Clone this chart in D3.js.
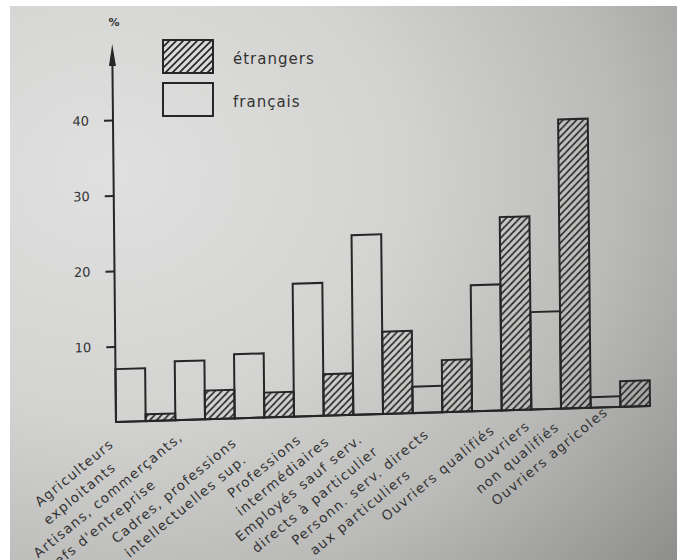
<!DOCTYPE html>
<html>
<head>
<meta charset="utf-8">
<script src="https://cdn.jsdelivr.net/npm/d3@7"></script>
<style>
  html, body { margin: 0; padding: 0; background: #fff; }
  svg { display: block; }
</style>
</head>
<body>
<svg id="chart" width="677" height="560"></svg>
<script>
// ---------- data ----------
const categories = [
  ["Agriculteurs", "exploitants"],
  ["Artisans, commerçants,", "chefs d'entreprise"],
  ["Cadres, professions", "intellectuelles sup."],
  ["Professions", "intermédiaires"],
  ["Employés sauf serv.", "directs à particulier"],
  ["Personn. serv. directs", "aux particuliers"],
  ["Ouvriers qualifiés"],
  ["Ouvriers", "non qualifiés"],
  ["Ouvriers agricoles"]
];
const francais  = [7.0, 7.8, 8.5, 17.6, 23.8, 3.5, 16.7, 12.9, 1.4];
const etrangers = [0.9, 3.8, 3.3, 5.5, 10.9, 6.9, 25.6, 38.3, 3.4];
const seriesNames = ["étrangers", "français"];
const yTicks = [10, 20, 30, 40];
const yUnit = "%";

// ---------- layout (not data) ----------
// shift of each label line's middle along the text direction, relative to its bar group
const labelShift = [
  [-88, -97],
  [-123, -152],
  [-116, -117],
  [-78, -70],
  [-112, -107],
  [-111, -127],
  [-89],
  [-69, -65],
  [-86]
];

const W = 677, H = 560;
const svg = d3.select("#chart");
const ink = "#262626";
const textInk = "#333";
const font = "'DejaVu Sans', sans-serif";

// background: photographed paper
const defs = svg.append("defs");
const rg = defs.append("radialGradient").attr("id", "paper")
  .attr("cx", "15%").attr("cy", "30%").attr("r", "110%");
rg.append("stop").attr("offset", "0%").attr("stop-color", "#e0e0e0");
rg.append("stop").attr("offset", "40%").attr("stop-color", "#d3d3d1");
rg.append("stop").attr("offset", "70%").attr("stop-color", "#b9b9b7");
rg.append("stop").attr("offset", "100%").attr("stop-color", "#8e8e8c");

const pat = defs.append("pattern").attr("id", "hatch")
  .attr("patternUnits", "userSpaceOnUse").attr("width", 7).attr("height", 7);
pat.append("path").attr("d", "M-1,8 L8,-1 M-4,4 L4,-4 M3,11 L11,3")
  .attr("stroke", ink).attr("stroke-width", 1.7);

svg.append("rect").attr("width", W).attr("height", H).attr("fill", "#fff");
svg.append("rect").attr("x", 10).attr("y", 6).attr("width", W - 10).attr("height", H - 6)
  .attr("fill", "url(#paper)");

// ---------- scales ----------
const x0 = 116, x1 = 650, yBase = 422;
const x = d3.scaleBand().domain(d3.range(categories.length)).range([x0, x1]).padding(0);
const xs = d3.scaleBand().domain(seriesNames.slice().reverse()).range([0, x.bandwidth()]);
const y = d3.scaleLinear().domain([0, 50]).range([yBase, yBase - 50 * 7.55]);

// photo perspective: slight tilt of the printed page
const M = { a: 1, b: -0.03, c: 0.01, d: 1, e: -4.22, f: 3.48 };
const tf = (px, py) => [M.a * px + M.c * py + M.e, M.b * px + M.d * py + M.f];
const g = svg.append("g")
  .attr("transform", `matrix(${M.a},${M.b},${M.c},${M.d},${M.e},${M.f})`);

// bars
const rows = categories.map((c, i) => ({ i, fr: francais[i], et: etrangers[i] }));
const cat = g.selectAll("g.cat").data(rows).join("g").attr("class", "cat")
  .attr("transform", d => `translate(${x(d.i)},0)`);
cat.append("rect")
  .attr("x", xs("français")).attr("width", xs.bandwidth())
  .attr("y", d => y(d.fr)).attr("height", d => y(0) - y(d.fr))
  .attr("fill", "none").attr("stroke", ink).attr("stroke-width", 2);
cat.append("rect")
  .attr("x", xs("étrangers")).attr("width", xs.bandwidth())
  .attr("y", d => y(d.et)).attr("height", d => y(0) - y(d.et))
  .attr("fill", "url(#hatch)").attr("stroke", ink).attr("stroke-width", 2);

// baseline
g.append("line").attr("x1", x0).attr("x2", x1).attr("y1", y(0)).attr("y2", y(0))
  .attr("stroke", ink).attr("stroke-width", 2);

// y axis with arrow
const yAxis = d3.axisLeft(y).tickValues(yTicks).tickSize(9).tickPadding(15)
  .tickFormat(d3.format("d"));
const ya = g.append("g").attr("transform", `translate(${x0},0)`).call(yAxis);
ya.select(".domain").remove();
ya.selectAll(".tick line").attr("stroke", ink).attr("stroke-width", 2);
ya.selectAll(".tick text").attr("fill", textInk)
  .style("font-family", font).style("font-size", "13px");
g.append("line").attr("x1", x0).attr("x2", x0).attr("y1", y(0)).attr("y2", 60)
  .attr("stroke", ink).attr("stroke-width", 2);
g.append("path").attr("d", `M${x0},44 L${x0 - 3.5},66 L${x0 + 3.5},66 Z`).attr("fill", ink);

// category labels: evenly spaced parallel slanted lines
const ang = 39.5 * Math.PI / 180;
const perp = [Math.sin(ang), Math.cos(ang)];    // towards next line
const along = [Math.cos(ang), -Math.sin(ang)];  // reading direction
const p0 = 412, pStep = 19.3;
let lineNo = 0;
const labelData = [];
categories.forEach((lines, i) => {
  const [cx, cy] = tf(x(i) + x.bandwidth() / 2, yBase);
  const aC = cx * along[0] + cy * along[1];
  lines.forEach((t, k) => {
    const p = p0 + pStep * lineNo++;
    const a = aC + labelShift[i][k];
    labelData.push({ t, px: p * perp[0] + a * along[0], py: p * perp[1] + a * along[1] });
  });
});
svg.append("g").selectAll("text").data(labelData).join("text")
  .attr("transform", d => `translate(${d.px},${d.py}) rotate(-39.5)`)
  .attr("text-anchor", "middle")
  .attr("dy", "0.35em")
  .attr("fill", textInk)
  .style("font-family", font)
  .style("font-size", "13.5px")
  .style("letter-spacing", "1.3px")
  .text(d => d.t);

// unit label
svg.append("text").attr("x", 114).attr("y", 26).attr("text-anchor", "middle")
  .attr("fill", textInk).style("font-family", font)
  .style("font-size", "11px").style("font-weight", "bold").text(yUnit);

// legend
const leg = svg.append("g");
const legRows = [
  { name: seriesNames[0], fill: "url(#hatch)", y: 40 },
  { name: seriesNames[1], fill: "none", y: 83 }
];
leg.selectAll("rect").data(legRows).join("rect")
  .attr("x", 163).attr("y", d => d.y).attr("width", 50).attr("height", 33)
  .attr("fill", d => d.fill).attr("stroke", ink).attr("stroke-width", 2);
leg.selectAll("text").data(legRows).join("text")
  .attr("x", 233).attr("y", d => d.y + 24)
  .attr("fill", textInk).style("font-family", font)
  .style("font-size", "15px").style("letter-spacing", "1px")
  .text(d => d.name);
</script>
</body>
</html>
